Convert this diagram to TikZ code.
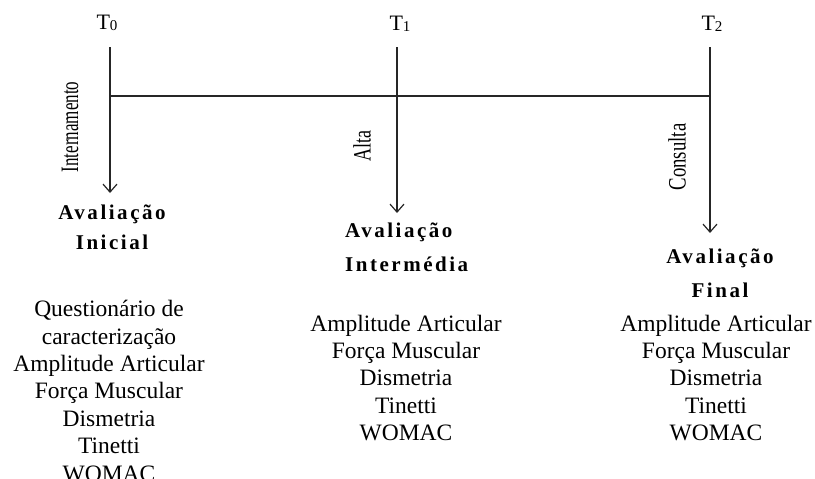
\documentclass[tikz,border=0pt]{standalone}
\usepackage{fontspec}
\setmainfont{Liberation Serif}
\newfontfamily\boldlab[LetterSpace=12]{Liberation Serif}
\usetikzlibrary{arrows.meta}
\tikzset{
  tline/.style={line width=1.3pt, draw=black!85},
  tarrow/.style={tline, -{Straight Barb[length=8pt,width=14pt,line width=1.2pt]}},
  tlabel/.style={inner sep=0pt, font=\fontsize{22}{24}\selectfont},
  rotlab/.style={inner sep=0pt, rotate=90, font=\fontsize{25}{27}\selectfont},
  evlab/.style={inner sep=0pt, font=\fontsize{21}{23}\boldlab\bfseries},
  listlab/.style={inner sep=0pt, align=center, font=\fontsize{23.5}{27.4}\selectfont}
}
\newcommand{\tsub}[1]{T\raisebox{-1pt}{\fontsize{15}{15}\selectfont #1}}
\begin{document}
\begin{tikzpicture}[x=1pt,y=-1pt]
\useasboundingbox (0,0) rectangle (815,479);
% time labels
\node[tlabel] (t0) at (107,23) {\tsub{0}};
\node[tlabel] (t1) at (400,24) {\tsub{1}};
\node[tlabel] (t2) at (712,24) {\tsub{2}};
% coordinates
\coordinate (top0) at (110,47);
\coordinate (top1) at (397,47);
\coordinate (top2) at (710,47);
\coordinate (tip0) at (110,193);
\coordinate (tip1) at (397,213);
\coordinate (tip2) at (710,233);
\coordinate (h0) at (110,96);
\coordinate (h2) at (710,96);
% lines
\draw[tline] (h0) -- (h2);
\draw[tarrow] (top0) -- (tip0);
\draw[tarrow] (top1) -- (tip1);
\draw[tarrow] (top2) -- (tip2);
% rotated labels
\node[rotlab] (int) at (70,127) {\scalebox{0.68}[1]{Internamento}};
\node[rotlab] (alta) at (362,146) {\scalebox{0.72}[1]{Alta}};
\node[rotlab] (cons) at (677,157) {\scalebox{0.75}[1]{Consulta}};
% evaluation labels
\node[evlab] (av0) at (112,214) {Avaliação};
\node[evlab] (in0) at (112,242) {Inicial};
\node[evlab, anchor=west] (av1) at (345,232) {Avaliação};
\node[evlab, anchor=west] (in1) at (345,264) {Intermédia};
\node[evlab] (av2) at (720,258) {Avaliação};
\node[evlab] (in2) at (720,290) {Final};
% lists
\node[listlab] (l0) at (109,391) {Questionário de\\caracterização\\Amplitude Articular\\Força Muscular\\Dismetria\\Tinetti\\WOMAC};
\node[listlab] (l1) at (406,378) {Amplitude Articular\\Força Muscular\\Dismetria\\Tinetti\\WOMAC};
\node[listlab] (l2) at (716,378) {Amplitude Articular\\Força Muscular\\Dismetria\\Tinetti\\WOMAC};
\end{tikzpicture}
\end{document}
